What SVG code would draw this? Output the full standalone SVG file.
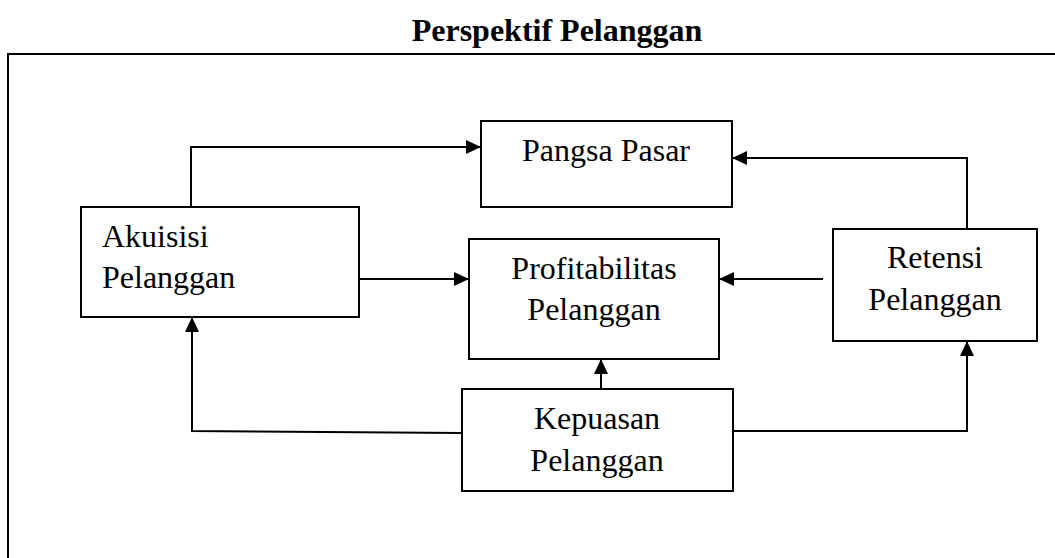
<svg xmlns="http://www.w3.org/2000/svg" width="1055" height="558" viewBox="0 0 1055 558">
<style>
.box{fill:#fff;stroke:#000;stroke-width:2}
.t{font-family:"Liberation Serif","Times New Roman",serif;font-size:32px;fill:#000}
.c{text-anchor:middle}
.title{font-family:"Liberation Serif","Times New Roman",serif;font-size:32px;font-weight:bold;text-anchor:middle}
.ln{fill:none;stroke:#000;stroke-width:2}
</style>
<defs>
<marker id="ah" viewBox="0 0 15 14" refX="15" refY="7" markerWidth="15" markerHeight="14" orient="auto" markerUnits="userSpaceOnUse">
<path d="M0,0 L15,7 L0,14 Z" fill="#000"/>
</marker>
</defs>
<rect width="1055" height="558" fill="#fff"/>
<g id="frame">
<path class="ln" d="M8,558 V54 H1055"/>
</g>
<text class="title" x="557" y="41">Perspektif Pelanggan</text>
<g id="connectors">
<path class="ln" d="M191,207 V147 H481" marker-end="url(#ah)"/>
<path class="ln" d="M359,279 H469" marker-end="url(#ah)"/>
<path class="ln" d="M967,238 V158 H732" marker-end="url(#ah)"/>
<path class="ln" d="M823,279 H719" marker-end="url(#ah)"/>
<path class="ln" d="M601,389 V359" marker-end="url(#ah)"/>
<path class="ln" d="M462,433 L192,431 V317" marker-end="url(#ah)"/>
<path class="ln" d="M733,431 H967 V341" marker-end="url(#ah)"/>
</g>
<g id="akuisisi">
<rect class="box" x="81" y="207" width="278" height="110"/>
<text class="t" x="102" y="247">Akuisisi</text>
<text class="t" x="102" y="288">Pelanggan</text>
</g>
<g id="pangsa">
<rect class="box" x="481" y="121" width="251" height="86"/>
<text class="t c" x="606" y="161">Pangsa Pasar</text>
</g>
<g id="profitabilitas">
<rect class="box" x="469" y="239" width="250" height="120"/>
<text class="t c" x="594" y="279">Profitabilitas</text>
<text class="t c" x="594" y="320">Pelanggan</text>
</g>
<g id="retensi">
<rect class="box" x="833" y="229" width="204" height="112"/>
<text class="t c" x="935" y="268">Retensi</text>
<text class="t c" x="935" y="310">Pelanggan</text>
</g>
<g id="kepuasan">
<rect class="box" x="462" y="389" width="271" height="102"/>
<text class="t c" x="597" y="429">Kepuasan</text>
<text class="t c" x="597" y="471">Pelanggan</text>
</g>
</svg>
